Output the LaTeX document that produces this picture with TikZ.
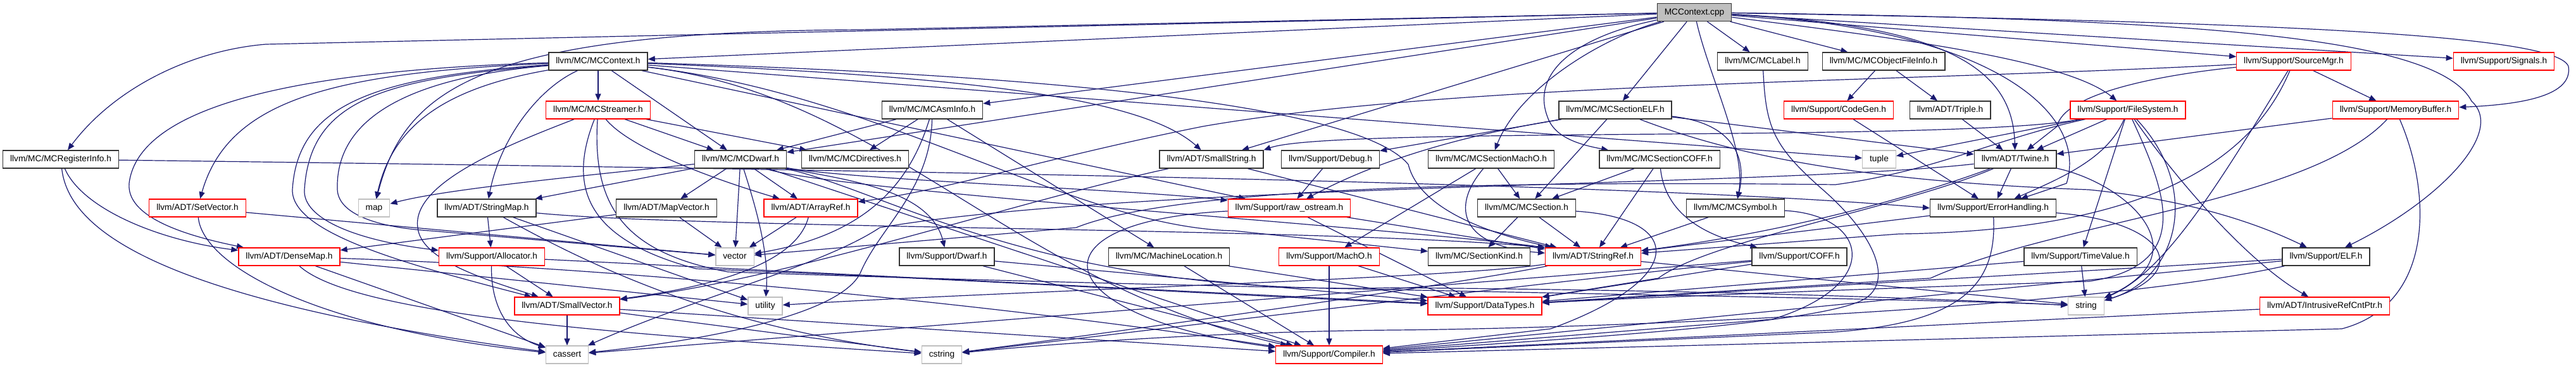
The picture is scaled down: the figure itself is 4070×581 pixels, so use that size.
\documentclass[tikz,border=0pt]{standalone}
\usepackage{fontspec}
\setmainfont{Liberation Sans}
\usetikzlibrary{arrows.meta}
\definecolor{edgeblue}{HTML}{191970}
\definecolor{boxgray}{HTML}{BFBFBF}
\definecolor{boxred}{HTML}{FF0000}
\definecolor{boxblk}{HTML}{333333}
\newcommand\labfont{\fontsize{13.7}{16}\selectfont}
\pgfdeclarelayer{bg}
\pgfsetlayers{bg,main}
\tikzset{
  box/.style={draw=boxblk, line width=1.4pt, fill=white, minimum height=28pt,
    inner xsep=11.5pt, inner ysep=0pt, text height=10pt, text depth=3pt, font=\labfont},
  redbox/.style={box, draw=boxred, line width=1.3pt},
  sysbox/.style={box, draw=boxgray, line width=1.3pt},
  rootbox/.style={box, fill=boxgray},
  edge/.style={draw=edgeblue, line width=1.2pt, -{Triangle[length=11pt,width=9pt]}},
}
\begin{document}
\begin{tikzpicture}[x=1pt,y=-1pt]
\useasboundingbox (0,0) rectangle (4070,581);
% row 0
\node[rootbox] (cpp) at (2677,19.5) {MCContext.cpp};
% row A
\node[box] (ctxh) at (945,97) {llvm/MC/MCContext.h};
\node[box] (label) at (2785,97) {llvm/MC/MCLabel.h};
\node[box] (ofi) at (2976,97) {llvm/MC/MCObjectFileInfo.h};
\node[redbox] (srcmgr) at (3624,97) {llvm/Support/SourceMgr.h};
\node[redbox] (signals) at (3956,97) {llvm/Support/Signals.h};
% row B
\node[redbox] (streamer) at (945,174) {llvm/MC/MCStreamer.h};
\node[box] (asminfo) at (1473,174) {llvm/MC/MCAsmInfo.h};
\node[box] (secelf) at (2552,174) {llvm/MC/MCSectionELF.h};
\node[redbox] (codegen) at (2905,174) {llvm/Support/CodeGen.h};
\node[box] (triple) at (3081,174) {llvm/ADT/Triple.h};
\node[redbox] (fs) at (3362,174) {llvm/Support/FileSystem.h};
\node[redbox] (membuf) at (3785,174) {llvm/Support/MemoryBuffer.h};
% row C
\node[box] (reginfo) at (96,252) {llvm/MC/MCRegisterInfo.h};
\node[box] (dwarfmc) at (1170,252) {llvm/MC/MCDwarf.h};
\node[box] (directives) at (1351,252) {llvm/MC/MCDirectives.h};
\node[box] (smallstr) at (1914,252) {llvm/ADT/SmallString.h};
\node[box] (debug) at (2102,252) {llvm/Support/Debug.h};
\node[box] (secmacho) at (2356,252) {llvm/MC/MCSectionMachO.h};
\node[box] (seccoff) at (2622,252) {llvm/MC/MCSectionCOFF.h};
\node[sysbox] (tuple) at (2969,252) {tuple};
\node[box] (twine) at (3184,252) {llvm/ADT/Twine.h};
% row D
\node[redbox] (setvec) at (312,329) {llvm/ADT/SetVector.h};
\node[sysbox] (map) at (591,329) {map};
\node[box] (strmap) at (769,329) {llvm/ADT/StringMap.h};
\node[box] (mapvec) at (1053,329) {llvm/ADT/MapVector.h};
\node[redbox] (arrayref) at (1281,329) {llvm/ADT/ArrayRef.h};
\node[redbox] (rawos) at (2037,329) {llvm/Support/raw\_ostream.h};
\node[box] (section) at (2412,329) {llvm/MC/MCSection.h};
\node[box] (symbol) at (2742,329) {llvm/MC/MCSymbol.h};
\node[box] (errh) at (3149,329) {llvm/Support/ErrorHandling.h};
% row E
\node[redbox] (densemap) at (457,406) {llvm/ADT/DenseMap.h};
\node[redbox] (alloc) at (777,406) {llvm/Support/Allocator.h};
\node[sysbox] (vector) at (1161,406) {vector};
\node[box] (dwarf) at (1496,406) {llvm/Support/Dwarf.h};
\node[box] (mloc) at (1847,406) {llvm/MC/MachineLocation.h};
\node[redbox] (macho) at (2100,406) {llvm/Support/MachO.h};
\node[box] (seckind) at (2337,406) {llvm/MC/SectionKind.h};
\node[redbox] (strref) at (2517,406) {llvm/ADT/StringRef.h};
\node[box] (coff) at (2843,406) {llvm/Support/COFF.h};
\node[box] (timeval) at (3287,406) {llvm/Support/TimeValue.h};
\node[box] (elf) at (3675,406) {llvm/Support/ELF.h};
% row F
\node[redbox] (smallvec) at (896,484) {llvm/ADT/SmallVector.h};
\node[sysbox] (utility) at (1209,484) {utility};
\node[redbox] (datatypes) at (2346,484) {llvm/Support/DataTypes.h};
\node[sysbox] (string) at (3296,484) {string};
\node[redbox] (irc) at (3673,484) {llvm/ADT/IntrusiveRefCntPtr.h};
% row G
\node[sysbox] (cassert) at (896,561) {cassert};
\node[sysbox] (cstring) at (1488,561) {cstring};
\node[redbox] (compiler) at (2100,561) {llvm/Support/Compiler.h};

\begin{pgfonlayer}{bg}
\foreach \a/\b in {cpp/ctxh, cpp/asminfo, cpp/dwarfmc, cpp/label, cpp/ofi, cpp/secelf,
  cpp/smallstr, cpp/signals, cpp/srcmgr,
  ctxh/streamer, ctxh/dwarfmc, ctxh/rawos, ctxh/tuple,
  streamer/dwarfmc, streamer/directives,
  asminfo/directives, asminfo/dwarfmc, asminfo/mloc,
  secelf/debug, secelf/section, secelf/twine,
  secmacho/section, secmacho/macho,
  seccoff/section, seccoff/strref,
  ofi/codegen, ofi/triple, srcmgr/membuf, membuf/twine,
  fs/tuple, fs/twine, fs/timeval,
  twine/errh, triple/twine, codegen/errh,
  section/seckind, section/strref, symbol/strref, errh/strref,
  rawos/strref, rawos/datatypes,
  strmap/alloc, strmap/utility,
  mapvec/densemap, mapvec/vector, arrayref/vector, setvec/vector,
  densemap/utility, densemap/cassert,
  alloc/smallvec, alloc/datatypes,
  smallvec/cassert, smallvec/cstring, smallvec/compiler,
  dwarf/datatypes, dwarf/compiler,
  mloc/compiler, mloc/datatypes,
  macho/compiler, macho/datatypes,
  strref/string, timeval/datatypes, timeval/string,
  coff/datatypes, coff/cassert,
  elf/compiler, elf/datatypes, irc/compiler,
  dwarfmc/strmap, dwarfmc/mapvec, dwarfmc/vector, dwarfmc/arrayref, dwarfmc/compiler,
  smallstr/strref, debug/rawos}
  \draw[edge] (\a) -- (\b);
% routed connectors
\draw[edge] (cpp) -- (420,70) .. controls (300,80) and (180,140) .. (reginfo);
\draw[edge] (cpp) .. controls (2700,120) and (2760,240) .. (symbol);
\draw[edge] (cpp) .. controls (2530,60) and (2400,140) .. (secmacho);
\draw[edge] (cpp) .. controls (2480,60) and (2420,120) .. (2445,185) .. controls (2455,215) and (2490,228) .. (seccoff);
\draw[edge] (cpp) .. controls (3080,40) and (3180,110) .. (twine);
\draw[edge] (cpp) .. controls (3450,30) and (3850,55) .. (3905,160) .. controls (3960,210) and (3850,320) .. (elf);
\draw[edge] (cpp) .. controls (3600,35) and (4040,55) .. (4058,105) .. controls (4065,150) and (3990,165) .. (membuf);
\draw[edge] (cpp) .. controls (3150,45) and (3300,180) .. (3265,290) -- (errh);
\draw[edge] (cpp) .. controls (2950,55) and (3260,90) .. (fs);
\draw[edge] (cpp) -- (1360,47) .. controls (760,50) and (640,140) .. (map);
\draw[edge] (ctxh) .. controls (700,140) and (620,200) .. (map);
\draw[edge] (ctxh) .. controls (500,110) and (220,160) .. (204,290) .. controls (200,340) and (280,370) .. (densemap);
\draw[edge] (ctxh) .. controls (520,115) and (360,160) .. (setvec);
\draw[edge] (ctxh) .. controls (600,125) and (490,160) .. (481,300) .. controls (478,345) and (560,380) .. (alloc);
\draw[edge] (ctxh) .. controls (580,122) and (470,170) .. (462,300) .. controls (460,370) and (650,420) .. (smallvec);
\draw[edge] (ctxh) .. controls (620,125) and (530,200) .. (533,300) .. controls (535,340) and (600,360) .. (680,365) -- (vector);
\draw[edge] (ctxh) .. controls (850,140) and (790,220) .. (strmap);
\draw[edge] (ctxh) .. controls (1400,150) and (1700,360) .. (1950,365) -- (seckind);
\draw[edge] (ctxh) .. controls (1500,120) and (1800,150) .. (smallstr);
\draw[edge] (ctxh) .. controls (1700,120) and (2150,170) .. (2225,260) .. controls (2245,340) and (2380,375) .. (strref);
\draw[edge] (ctxh) .. controls (1400,150) and (1600,450) .. (compiler);
\draw[edge] (streamer) .. controls (800,230) and (650,290) .. (660,360) .. controls (665,410) and (760,440) .. (smallvec);
\draw[edge] (streamer) .. controls (895,300) and (930,380) .. (1100,425) .. controls (1500,440) and (2000,470) .. (datatypes);
\draw[edge] (streamer) .. controls (935,330) and (990,400) .. (1150,430) .. controls (2000,460) and (3000,470) .. (string);
\draw[edge] (streamer) .. controls (1000,240) and (1150,290) .. (arrayref);
\draw[edge] (asminfo) .. controls (1440,280) and (1380,370) .. (vector);
\draw[edge] (asminfo) .. controls (1470,300) and (1390,360) .. (1360,430) .. controls (1330,500) and (1100,540) .. (cassert);
\draw[edge] (secelf) .. controls (2740,195) and (2760,250) .. (symbol);
\draw[edge] (secelf) .. controls (2700,230) and (2880,285) .. (3300,300) .. controls (3450,315) and (3560,350) .. (elf);
\draw[edge] (secelf) .. controls (2400,200) and (2220,230) .. (rawos);
\draw[edge] (secmacho) .. controls (2290,330) and (2310,390) .. (strref);
\draw[edge] (seccoff) .. controls (2630,330) and (2680,370) .. (coff);
\draw[edge] (srcmgr) .. controls (3000,130) and (2300,130) .. (1900,200) .. controls (1650,250) and (1500,300) .. (arrayref);
\draw[edge] (srcmgr) .. controls (3400,120) and (3260,150) .. (3250,200) -- (twine);
\draw[edge] (srcmgr) .. controls (3560,250) and (3400,365) .. (3000,370) -- (strref);
\draw[edge] (srcmgr) .. controls (3500,300) and (3420,430) .. (string);
\draw[edge] (membuf) .. controls (3650,320) and (3250,350) .. (3050,440) -- (datatypes);
\draw[edge] (membuf) .. controls (3840,300) and (3850,480) .. (3700,520) -- (compiler);
\draw[edge] (fs) .. controls (3100,225) and (2100,200) .. (smallstr.north east);
\draw[edge] (fs) .. controls (3150,220) and (3060,270) .. (2900,292) .. controls (2300,285) and (1850,300) .. (1700,360) -- (vector);
\draw[edge] (fs) .. controls (3330,250) and (3260,280) .. (errh);
\draw[edge] (fs) .. controls (3420,300) and (3470,420) .. (3300,445) .. controls (3000,455) and (2600,470) .. (datatypes);
\draw[edge] (fs) .. controls (3480,300) and (3440,440) .. (string);
\draw[edge] (fs) .. controls (3450,300) and (3560,420) .. (irc);
\draw[edge] (twine) .. controls (3000,320) and (2800,370) .. (strref);
\draw[edge] (twine) .. controls (3000,330) and (2700,380) .. (2620,440) -- (datatypes);
\draw[edge] (twine) .. controls (2800,295) and (1800,290) .. (1390,360) .. controls (1300,420) and (1100,470) .. (cassert);
\draw[edge] (twine) .. controls (3360,290) and (3480,400) .. (string);
\draw[edge] (section) .. controls (2660,345) and (2670,440) .. (2450,520) -- (compiler);
\draw[edge] (symbol) .. controls (2950,340) and (2980,450) .. (2800,505) -- (compiler);
\draw[edge] (errh) .. controls (3155,450) and (3100,510) .. (2900,525) -- (compiler);
\draw[edge] (errh) .. controls (3420,350) and (3470,430) .. (string);
\draw[edge] (rawos) .. controls (1620,350) and (1650,500) .. (compiler);
\draw[edge] (strmap) .. controls (950,430) and (1150,520) .. (cstring);
\draw[edge] (strmap) .. controls (1100,362) and (2100,360) .. (strref.north west);
\draw[edge] (arrayref) .. controls (1260,410) and (1150,450) .. (smallvec);
\draw[edge] (setvec) .. controls (320,420) and (500,520) .. (cassert);
\draw[edge] (densemap) .. controls (560,500) and (1000,530) .. (cstring);
\draw[edge] (densemap) .. controls (900,420) and (1500,470) .. (compiler);
\draw[edge] (alloc) .. controls (775,480) and (800,530) .. (cassert);
\draw[edge] (strref) .. controls (2300,440) and (1600,460) .. (utility);
\draw[edge] (strref) .. controls (2300,450) and (1800,520) .. (cstring);
\draw[edge] (coff) .. controls (2500,440) and (2000,500) .. (cstring);
\draw[edge] (elf) .. controls (3300,490) and (2500,520) .. (2200,522) .. controls (1900,525) and (1650,545) .. (cstring);
\draw[edge] (reginfo) .. controls (130,330) and (250,380) .. (densemap);
\draw[edge] (reginfo) .. controls (1500,270) and (2600,290) .. (errh.west);
\draw[edge] (reginfo) .. controls (110,380) and (300,480) .. (cassert);
\draw[edge] (dwarfmc) .. controls (900,280) and (700,300) .. (map);
\draw[edge] (dwarfmc) .. controls (1195,330) and (1215,400) .. (utility);
\draw[edge] (dwarfmc) .. controls (1300,300) and (2200,360) .. (strref.north west);
\draw[edge] (dwarfmc) .. controls (1340,285) and (1470,300) .. (dwarf);
\draw[edge] (dwarfmc) .. controls (1350,285) and (1800,300) .. (rawos);
\draw[edge] (dwarfmc) .. controls (1400,300) and (1650,470) .. (2200,455) .. controls (2800,460) and (3100,475) .. (string);
\draw[edge] (smallstr) .. controls (1600,320) and (1250,440) .. (smallvec);
\draw[edge] (label) .. controls (2790,200) and (2800,230) .. (2880,300) .. controls (2960,370) and (2990,440) .. (2950,470) .. controls (2900,510) and (2500,535) .. (compiler);
\end{pgfonlayer}
\end{tikzpicture}
\end{document}
